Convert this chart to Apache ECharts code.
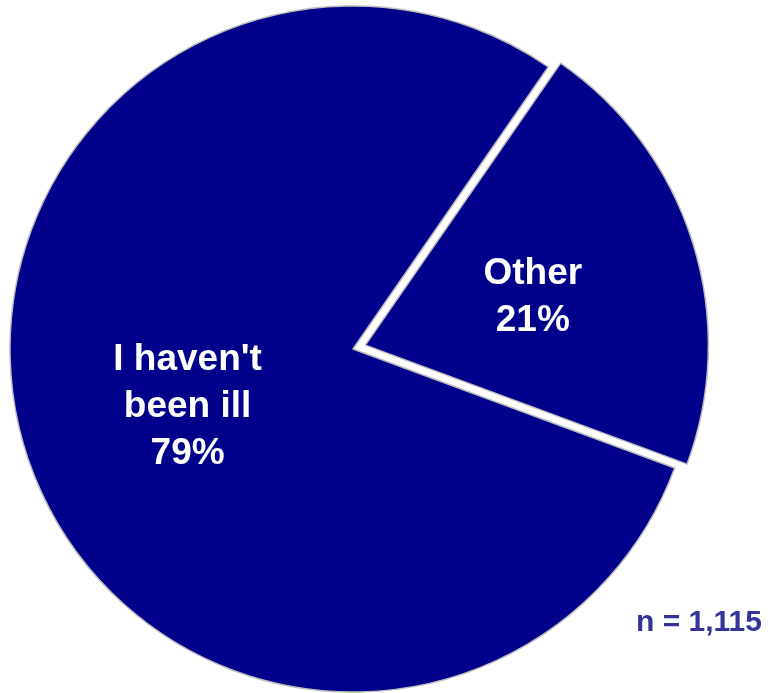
<!DOCTYPE html>
<html>
<head>
<meta charset="utf-8">
<script src="https://cdn.jsdelivr.net/npm/echarts@6/dist/echarts.min.js"></script>
<style>
  html, body { margin: 0; padding: 0; background: #ffffff; }
  #chart { width: 773px; height: 693px; }
</style>
</head>
<body>
<div id="chart"></div>
<script>
// Survey answers, in percent
const categories = ['Other', "I haven't\nbeen ill"];
const values = [21, 79];
const explodedCategory = 'Other';
const sampleNote = 'n = 1,115';

const FONT = '"Liberation Sans", Arial, sans-serif';
const NAVY = '#00008a';
const LABEL_OFFSET = [1, 5];

const chart = echarts.init(document.getElementById('chart'), null, { renderer: 'canvas' });

const pieData = categories.map((name, i) => ({
  name: name,
  value: values[i],
  selected: name === explodedCategory
}));

chart.setOption({
  animation: false,
  backgroundColor: '#ffffff',
  series: [{
    type: 'pie',
    center: [353, 349],
    radius: 343,
    startAngle: 55.3,
    clockwise: true,
    selectedMode: 'single',
    selectedOffset: 13,
    avoidLabelOverlap: false,
    itemStyle: {
      color: NAVY,
      borderColor: '#bdbdbd',
      borderWidth: 1.5
    },
    label: {
      show: true,
      position: 'inside',
      formatter: '{b}\n{c}%',
      color: '#ffffff',
      fontFamily: FONT,
      fontWeight: 'bold',
      fontSize: 37,
      lineHeight: 47,
      align: 'center',
      offset: LABEL_OFFSET
    },
    select: {
      itemStyle: { color: NAVY, borderColor: '#bdbdbd', borderWidth: 1.5 },
      label: { offset: LABEL_OFFSET }
    },
    labelLine: { show: false },
    emphasis: { disabled: true },
    data: pieData
  }],
  graphic: [{
    type: 'text',
    left: 636,
    top: 608,
    style: {
      text: sampleNote,
      fill: '#333399',
      font: 'bold 30px ' + FONT
    }
  }]
});
</script>
</body>
</html>
